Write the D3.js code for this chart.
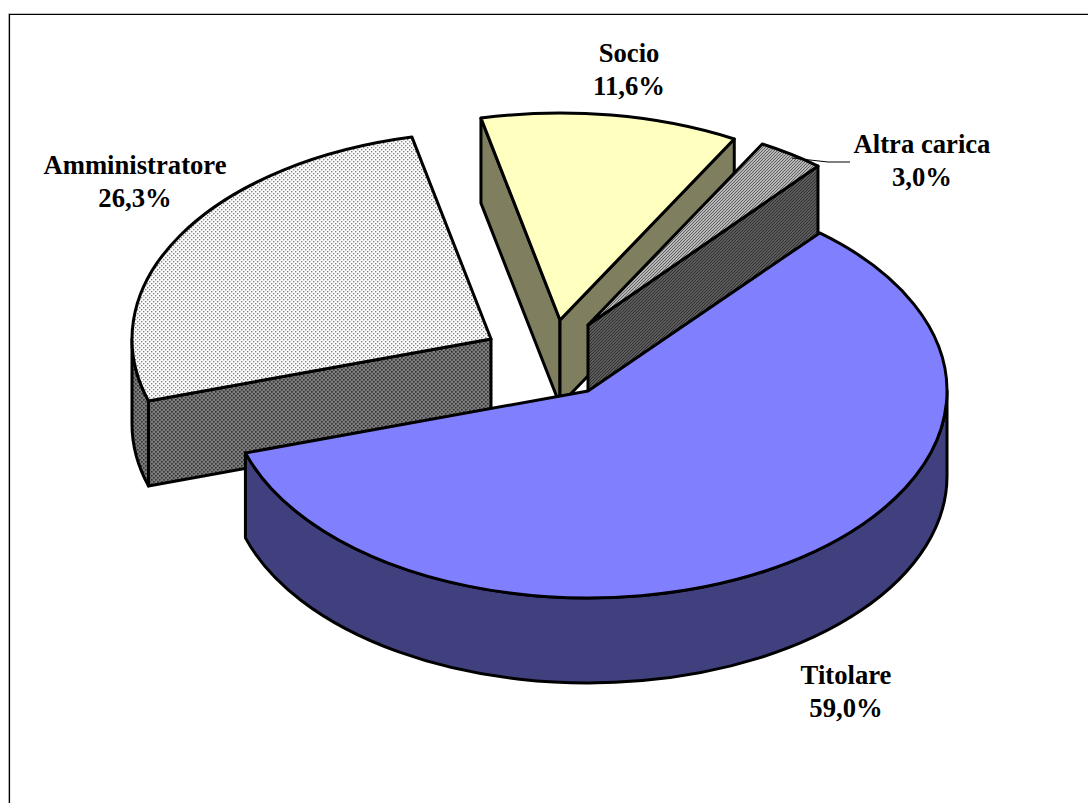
<!DOCTYPE html>
<html>
<head>
<meta charset="utf-8">
<script src="https://cdn.jsdelivr.net/npm/d3@7"></script>
<style>
  html, body { margin: 0; padding: 0; background: #fff; }
  svg { display: block; }
  text { font-family: "Liberation Serif", serif; font-weight: bold; font-size: 26.67px; fill: #000; }
</style>
</head>
<body>
<svg id="chart"></svg>
<script>
const categories = ["Titolare", "Amministratore", "Socio", "Altra carica"];
const values = [59.0, 26.3, 11.6, 3.0];
const valueLabels = ["59,0%", "26,3%", "11,6%", "3,0%"];

const width = 1088;
const height = 803;

// pie geometry
const cx = 588, cy = 391, rx = 359, ry = 207, depth = 85;
const firstAngle = 40.2 * Math.PI / 180;

// how far each slice is pulled out, in pixels
const offsets = [[0, 0], [-97, -52], [-28, -71], [0, -66]];
const labelPos = [[846, 684], [135, 174], [629, 62], [922, 153]];
const topFills = ["#8080ff", "url(#dots)", "#ffffc0", "url(#hatch)"];
const wallFills = ["#40407f", "url(#dotsDark)", "#7f7f60", "url(#hatchDark)"];

const svg = d3.select("#chart").attr("width", width).attr("height", height);

const defs = svg.append("defs");

function addDots(id, bg, fg, size) {
  const p = defs.append("pattern").attr("id", id)
    .attr("patternUnits", "userSpaceOnUse").attr("width", 4).attr("height", 4);
  p.append("rect").attr("width", 4).attr("height", 4).attr("fill", bg);
  p.append("rect").attr("x", 0).attr("y", 0).attr("width", size).attr("height", size).attr("fill", fg);
  p.append("rect").attr("x", 2).attr("y", 2).attr("width", size).attr("height", size).attr("fill", fg);
}
function addHatch(id, bg, fg) {
  const p = defs.append("pattern").attr("id", id)
    .attr("patternUnits", "userSpaceOnUse").attr("width", 3).attr("height", 3);
  p.append("rect").attr("width", 3).attr("height", 3).attr("fill", bg);
  p.append("path").attr("d", "M-1,1L1,-1M0,3L3,0M2,4L4,2")
    .attr("stroke", fg).attr("stroke-width", 1.3);
}
addDots("dots", "#ffffff", "#808080", 1.4);
addDots("dotsDark", "#7c7c7c", "#303030", 1.6);
addHatch("hatch", "#ffffff", "#606060");
addHatch("hatchDark", "#808080", "#303030");

// frame, only top and left sides are inside the picture
svg.append("path")
  .attr("d", "M8.5,803V13.5H1088")
  .attr("fill", "none").attr("stroke", "#c0c0c0").attr("stroke-width", 1);
svg.append("path")
  .attr("d", "M9.5,803V14.5H1088")
  .attr("fill", "none").attr("stroke", "#000").attr("stroke-width", 1.2);

// values add up to 99.9, so the pie stops just short of the full turn
const total = d3.sum(values);
const pie = d3.pie().sort(null).value(d => d)
  .startAngle(firstAngle).endAngle(firstAngle + 2 * Math.PI * total / 100);
const slices = pie(values);

const px = a => rx * Math.sin(a);
const py = a => -ry * Math.cos(a);

function ellipseArc(a0, a1, dy) {
  const large = a1 - a0 > Math.PI ? 1 : 0;
  return `A${rx},${ry} 0 ${large} 1 ${px(a1)},${py(a1) + dy}`;
}
function ellipseArcBack(a0, a1, dy) {
  const large = a1 - a0 > Math.PI ? 1 : 0;
  return `A${rx},${ry} 0 ${large} 0 ${px(a0)},${py(a0) + dy}`;
}

// draw back slices first, Titolare goes on top
const drawOrder = [1, 2, 3, 0];

drawOrder.forEach(i => {
  const s = slices[i];
  const g = svg.append("g")
    .attr("transform", `translate(${cx + offsets[i][0]},${cy + offsets[i][1]})`)
    .attr("stroke", "#000").attr("stroke-width", 3).attr("stroke-linejoin", "round");

  // cut faces, only those turned toward the viewer
  if (Math.sin(s.startAngle) < 0) {
    const a = s.startAngle;
    g.append("path")
      .attr("d", `M0,0L${px(a)},${py(a)}V${py(a) + depth}L0,${depth}Z`)
      .attr("fill", wallFills[i]);
  }
  if (Math.sin(s.endAngle) > 0) {
    const a = s.endAngle;
    g.append("path")
      .attr("d", `M0,0L${px(a)},${py(a)}V${py(a) + depth}L0,${depth}Z`)
      .attr("fill", wallFills[i]);
  }

  // outer wall, front half of the ellipse
  const a0 = Math.max(s.startAngle, Math.PI / 2);
  const a1 = Math.min(s.endAngle, Math.PI * 1.5);
  if (a1 > a0) {
    g.append("path")
      .attr("d", `M${px(a0)},${py(a0)}` + ellipseArc(a0, a1, 0) +
        `V${py(a1) + depth}` + ellipseArcBack(a0, a1, depth) + "Z")
      .attr("fill", wallFills[i]);
  }

  // top face
  g.append("path")
    .attr("d", `M0,0L${px(s.startAngle)},${py(s.startAngle)}` +
      ellipseArc(s.startAngle, s.endAngle, 0) + "Z")
    .attr("fill", topFills[i]);
});

// leader line for the small slice
svg.append("path")
  .attr("d", d3.line()([[792, 158], [828, 162], [850, 162]]))
  .attr("fill", "none").attr("stroke", "#000").attr("stroke-width", 1);

// labels
const labels = svg.append("g").selectAll("text").data(categories).join("text")
  .attr("text-anchor", "middle")
  .attr("x", (d, i) => labelPos[i][0])
  .attr("y", (d, i) => labelPos[i][1]);
labels.append("tspan").text(d => d);
labels.append("tspan")
  .attr("x", (d, i) => labelPos[i][0])
  .attr("dy", 33)
  .text((d, i) => valueLabels[i]);
</script>
</body>
</html>
